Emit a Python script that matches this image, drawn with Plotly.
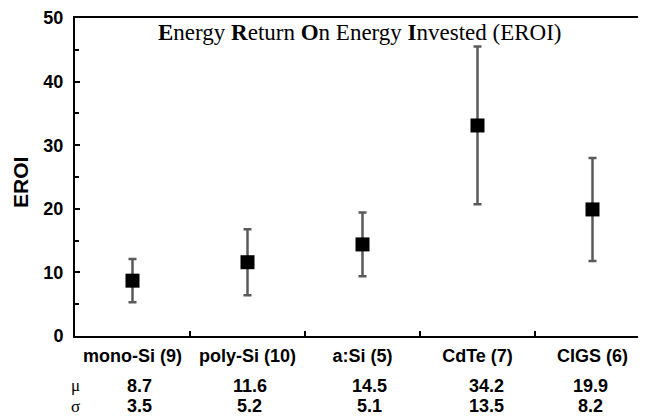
import plotly.graph_objects as go

# ---- data ----
categories = ["mono-Si (9)", "poly-Si (10)", "a:Si (5)", "CdTe (7)", "CIGS (6)"]
eroi_plotted = [8.7, 11.6, 14.4, 33.1, 19.9]      # marker positions
eroi_error = [3.4, 5.2, 5.0, 12.4, 8.1]           # error-bar half-lengths
mu_labels = ["8.7", "11.6", "14.5", "34.2", "19.9"]
sigma_labels = ["3.5", "5.2", "5.1", "13.5", "8.2"]
y_ticks = [0, 10, 20, 30, 40, 50]

# ---- layout constants (page has an 8px body margin) ----
OFF = 8
W, H = 646 - OFF, 419 - OFF
ML, MR, MT, MB = 75 - OFF, 0, 16 - OFF, 419 - 336
plot_w = W - ML - MR
plot_h = H - MT - MB
cat_px = 115
x_end = -0.5 + plot_w / cat_px
value_xshift = [7, 2, 7, 9, -2]

def py(page_y):
    """page pixel y -> paper coordinate"""
    return (336 - page_y) / plot_h

def px(page_x):
    return (page_x - 75) / plot_w

sans = "Liberation Sans"
serif = "Liberation Serif"

fig = go.Figure()
fig.add_trace(go.Scatter(
    x=categories,
    y=eroi_plotted,
    mode="markers",
    marker=dict(symbol="square", size=14, color="black", line=dict(width=0)),
    error_y=dict(type="data", array=eroi_error, visible=True,
                 color="#5a5a5a", thickness=2.5, width=4),
    showlegend=False,
    hoverinfo="skip",
))

annotations = []
annotations.append(dict(
    xref="paper", yref="paper", x=px(360), y=py(31), yanchor="middle", xanchor="center",
    text="<b>E</b>nergy <b>R</b>eturn <b>O</b>n Energy <b>I</b>nvested (EROI)",
    showarrow=False, font=dict(family=serif, size=23, color="black"),
))
annotations.append(dict(
    xref="paper", yref="paper", x=px(21), y=py(182),
    xanchor="center", yanchor="middle", textangle=-90, text="<b>EROI</b>",
    showarrow=False, font=dict(family=sans, size=21, color="black"),
))
mu_y = py(386)
sg_y = py(406.5)
annotations.append(dict(xref="paper", yref="paper", x=0, y=mu_y, xanchor="center", yanchor="middle",
                        text="μ", showarrow=False, font=dict(family=serif, size=17, color="black")))
annotations.append(dict(xref="paper", yref="paper", x=0, y=sg_y, xanchor="center", yanchor="middle",
                        text="σ", showarrow=False, font=dict(family=serif, size=17, color="black")))
for c, m, s, dx in zip(categories, mu_labels, sigma_labels, value_xshift):
    annotations.append(dict(xref="x", yref="paper", x=c, y=mu_y, xanchor="center", yanchor="middle",
                            xshift=dx, text=f"<b>{m}</b>", showarrow=False,
                            font=dict(family=sans, size=18, color="black")))
    annotations.append(dict(xref="x", yref="paper", x=c, y=sg_y, xanchor="center", yanchor="middle",
                            xshift=dx, text=f"<b>{s}</b>", showarrow=False,
                            font=dict(family=sans, size=18, color="black")))

fig.update_layout(
    width=W, height=H,
    margin=dict(l=ML, r=MR, t=MT, b=MB, pad=0),
    paper_bgcolor="white", plot_bgcolor="white",
    annotations=annotations,
    xaxis=dict(
        type="category", categoryorder="array", categoryarray=categories,
        range=[-0.5, x_end], tickson="boundaries",
        ticks="inside", ticklen=5, tickwidth=2, tickcolor="black",
        showline=True, linecolor="black", linewidth=2, mirror=True,
        showgrid=False, zeroline=False,
        tickfont=dict(family=sans, size=18, color="black", weight="bold"),
        ticklabelstandoff=2,
    ),
    yaxis=dict(
        range=[0, 50], tickvals=y_ticks,
        ticks="inside", ticklen=5, tickwidth=2, tickcolor="black",
        minor=dict(dtick=5, ticks="inside", ticklen=4, tickwidth=2, tickcolor="black"),
        showline=True, linecolor="black", linewidth=2, mirror=False,
        showgrid=False, zeroline=False,
        tickfont=dict(family=sans, size=18, color="black", weight="bold"),
        ticklabelstandoff=6, ticklabeloverflow="allow",
    ),
)

fig.write_html("out.html")
